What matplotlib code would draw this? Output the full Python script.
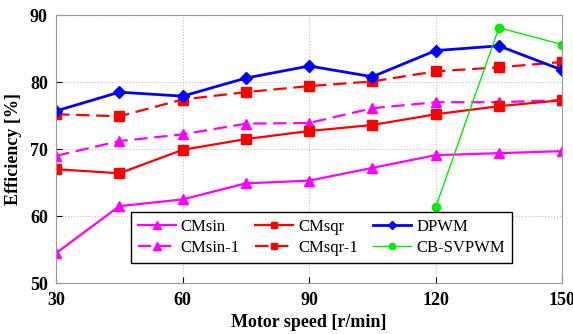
import matplotlib
matplotlib.use("Agg")
import matplotlib.pyplot as plt

plt.rcParams['font.family'] = ['Liberation Serif', 'DejaVu Serif']

speed = [30, 45, 60, 75, 90, 105, 120, 135, 150]
cm_sin = [54.5, 61.5, 62.5, 64.9, 65.3, 67.2, 69.1, 69.4, 69.7]
cm_sqr = [67.0, 66.4, 69.9, 71.5, 72.7, 73.6, 75.2, 76.4, 77.3]
cm_sin_1 = [69.0, 71.2, 72.2, 73.8, 73.9, 76.1, 77.0, 77.0, 77.3]
cm_sqr_1 = [75.2, 74.9, 77.4, 78.5, 79.4, 80.1, 81.6, 82.2, 83.0]
dpwm = [75.7, 78.5, 77.9, 80.6, 82.4, 80.8, 84.7, 85.4, 81.8]
svpwm_speed = [120, 135, 150]
cb_svpwm = [61.3, 88.1, 85.6]

fig, ax = plt.subplots(figsize=(5.73, 3.34), dpi=100)

ax.plot(speed, cm_sin, '-', color='#ff00ff', marker='^', lw=1.6, ms=7, label='CMsin')
ax.plot(speed, cm_sin_1, '--', color='#ff00ff', marker='^', lw=1.6, ms=7, dashes=(6, 3), label='CMsin-1')
ax.plot(speed, cm_sqr, '-', color='#ff0000', marker='s', lw=1.6, ms=6.5, label='CMsqr')
ax.plot(speed, cm_sqr_1, '--', color='#ff0000', marker='s', lw=1.6, ms=6.5, dashes=(6, 3), label='CMsqr-1')
ax.plot(speed, dpwm, '-', color='#0000ff', marker='D', lw=2.0, ms=6, label='DPWM')
ax.plot(svpwm_speed, cb_svpwm, '-', color='#00ee00', marker='o', lw=1.0, ms=6, label='CB-SVPWM')

ax.set_xlim(30, 150)
ax.set_ylim(50, 90)
ax.set_xticks([30, 60, 90, 120, 150])
ax.set_yticks([50, 60, 70, 80, 90])
ax.grid(True, color='#c0c0c0', linestyle=':', linewidth=0.8)
for s in ax.spines.values():
    s.set_color('#999999')
ax.tick_params(direction='in', length=4, labelsize=13, pad=6)
for lbl in ax.get_xticklabels() + ax.get_yticklabels():
    lbl.set_fontweight('bold')

ax.set_xlabel('Motor speed [r/min]', fontsize=13, fontweight='bold', labelpad=4)
ax.set_ylabel('Efficiency [%]', fontsize=13, fontweight='bold', labelpad=6)

leg = ax.legend(ncol=3, loc='lower center', bbox_to_anchor=(0.524, 0.045), fontsize=12,
                fancybox=False, edgecolor='black', framealpha=1, handlelength=2.3,
                columnspacing=0.9, borderpad=0.4, labelspacing=0.3, handletextpad=0.3,
                markerscale=0.75)
leg.get_frame().set_linewidth(1.0)

fig.subplots_adjust(left=0.098, right=0.981, top=0.955, bottom=0.152)
fig.savefig('out.png', dpi=100)
